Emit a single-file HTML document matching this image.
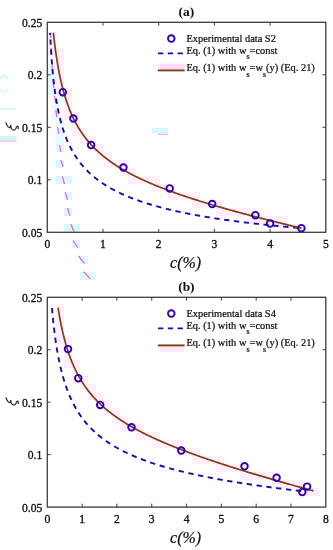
<!DOCTYPE html>
<html><head><meta charset="utf-8"><style>
html,body{margin:0;padding:0;background:#fff;width:333px;height:550px;overflow:hidden}
svg{display:block;will-change:transform;filter:blur(0.3px)}
</style></head><body>
<svg width="333" height="550" viewBox="0 0 333 550">
<style>
.tk{font-family:"Liberation Serif",serif;font-size:11.6px;fill:#0d0d0d;stroke:#0d0d0d;stroke-width:0.3px}
.ti{font-family:"Liberation Serif",serif;font-size:13.4px;font-weight:bold;fill:#0d0d0d}
.xl{font-family:"Liberation Serif",serif;font-size:16px;font-style:italic;fill:#0d0d0d;stroke:#0d0d0d;stroke-width:0.2px}
.yl{font-family:"Liberation Serif",serif;font-size:16px;fill:#0d0d0d}
.lg{font-family:"Liberation Serif",serif;font-size:10.4px;fill:#0d0d0d;stroke:#0d0d0d;stroke-width:0.22px}
.sb{font-size:8px}
</style>
<rect width="333" height="550" fill="#fff"/>
<rect x="48" y="32" width="8" height="8" fill="#fce4f7" opacity="0.6"/>
<rect x="48" y="40" width="8" height="8" fill="#fce4f7" opacity="0.6"/>
<rect x="48" y="48" width="8" height="8" fill="#fce4f7" opacity="0.6"/>
<rect x="56" y="48" width="8" height="8" fill="#fce4f7" opacity="0.6"/>
<rect x="56" y="56" width="8" height="8" fill="#fce4f7" opacity="0.6"/>
<rect x="56" y="64" width="8" height="8" fill="#fce4f7" opacity="0.6"/>
<rect x="56" y="72" width="8" height="8" fill="#fce4f7" opacity="0.6"/>
<rect x="56" y="80" width="8" height="8" fill="#fce4f7" opacity="0.6"/>
<rect x="56" y="88" width="8" height="8" fill="#fce4f7" opacity="0.6"/>
<rect x="56" y="304" width="8" height="8" fill="#fce4f7" opacity="0.6"/>
<rect x="56" y="312" width="8" height="8" fill="#fce4f7" opacity="0.6"/>
<rect x="56" y="320" width="8" height="8" fill="#fce4f7" opacity="0.6"/>
<rect x="56" y="328" width="8" height="8" fill="#fce4f7" opacity="0.6"/>
<rect x="56" y="336" width="8" height="8" fill="#fce4f7" opacity="0.6"/>
<rect x="64" y="88" width="8" height="8" fill="#fce4f7" opacity="0.6"/>
<rect x="64" y="96" width="8" height="8" fill="#fce4f7" opacity="0.6"/>
<rect x="64" y="104" width="8" height="8" fill="#fce4f7" opacity="0.6"/>
<rect x="64" y="112" width="8" height="8" fill="#fce4f7" opacity="0.6"/>
<rect x="64" y="336" width="8" height="8" fill="#fce4f7" opacity="0.6"/>
<rect x="64" y="344" width="8" height="8" fill="#fce4f7" opacity="0.6"/>
<rect x="64" y="352" width="8" height="8" fill="#fce4f7" opacity="0.6"/>
<rect x="64" y="360" width="8" height="8" fill="#fce4f7" opacity="0.6"/>
<rect x="72" y="112" width="8" height="8" fill="#fce4f7" opacity="0.6"/>
<rect x="72" y="120" width="8" height="8" fill="#fce4f7" opacity="0.6"/>
<rect x="72" y="128" width="8" height="8" fill="#fce4f7" opacity="0.6"/>
<rect x="72" y="360" width="8" height="8" fill="#fce4f7" opacity="0.6"/>
<rect x="72" y="368" width="8" height="8" fill="#fce4f7" opacity="0.6"/>
<rect x="72" y="376" width="8" height="8" fill="#fce4f7" opacity="0.6"/>
<rect x="80" y="128" width="8" height="8" fill="#fce4f7" opacity="0.6"/>
<rect x="80" y="136" width="8" height="8" fill="#fce4f7" opacity="0.6"/>
<rect x="80" y="376" width="8" height="8" fill="#fce4f7" opacity="0.6"/>
<rect x="80" y="384" width="8" height="8" fill="#fce4f7" opacity="0.6"/>
<rect x="88" y="136" width="8" height="8" fill="#fce4f7" opacity="0.6"/>
<rect x="88" y="144" width="8" height="8" fill="#fce4f7" opacity="0.6"/>
<rect x="88" y="384" width="8" height="8" fill="#fce4f7" opacity="0.6"/>
<rect x="88" y="392" width="8" height="8" fill="#fce4f7" opacity="0.6"/>
<rect x="96" y="144" width="8" height="8" fill="#fce4f7" opacity="0.6"/>
<rect x="96" y="152" width="8" height="8" fill="#fce4f7" opacity="0.6"/>
<rect x="96" y="392" width="8" height="8" fill="#fce4f7" opacity="0.6"/>
<rect x="96" y="400" width="8" height="8" fill="#fce4f7" opacity="0.6"/>
<rect x="104" y="152" width="8" height="8" fill="#fce4f7" opacity="0.6"/>
<rect x="104" y="160" width="8" height="8" fill="#fce4f7" opacity="0.6"/>
<rect x="104" y="400" width="8" height="8" fill="#fce4f7" opacity="0.6"/>
<rect x="104" y="408" width="8" height="8" fill="#fce4f7" opacity="0.6"/>
<rect x="112" y="160" width="8" height="8" fill="#fce4f7" opacity="0.6"/>
<rect x="112" y="408" width="8" height="8" fill="#fce4f7" opacity="0.6"/>
<rect x="112" y="416" width="8" height="8" fill="#fce4f7" opacity="0.6"/>
<rect x="120" y="160" width="8" height="8" fill="#fce4f7" opacity="0.6"/>
<rect x="120" y="168" width="8" height="8" fill="#fce4f7" opacity="0.6"/>
<rect x="120" y="416" width="8" height="8" fill="#fce4f7" opacity="0.6"/>
<rect x="120" y="424" width="8" height="8" fill="#fce4f7" opacity="0.6"/>
<rect x="128" y="168" width="8" height="8" fill="#fce4f7" opacity="0.6"/>
<rect x="128" y="176" width="8" height="8" fill="#fce4f7" opacity="0.6"/>
<rect x="128" y="424" width="8" height="8" fill="#fce4f7" opacity="0.6"/>
<rect x="136" y="176" width="8" height="8" fill="#fce4f7" opacity="0.6"/>
<rect x="136" y="424" width="8" height="8" fill="#fce4f7" opacity="0.6"/>
<rect x="136" y="432" width="8" height="8" fill="#fce4f7" opacity="0.6"/>
<rect x="144" y="176" width="8" height="8" fill="#fce4f7" opacity="0.6"/>
<rect x="144" y="432" width="8" height="8" fill="#fce4f7" opacity="0.6"/>
<rect x="152" y="176" width="8" height="8" fill="#fce4f7" opacity="0.6"/>
<rect x="152" y="184" width="8" height="8" fill="#fce4f7" opacity="0.6"/>
<rect x="152" y="432" width="8" height="8" fill="#fce4f7" opacity="0.6"/>
<rect x="152" y="440" width="8" height="8" fill="#fce4f7" opacity="0.6"/>
<rect x="160" y="184" width="8" height="8" fill="#fce4f7" opacity="0.6"/>
<rect x="160" y="440" width="8" height="8" fill="#fce4f7" opacity="0.6"/>
<rect x="168" y="184" width="8" height="8" fill="#fce4f7" opacity="0.6"/>
<rect x="168" y="192" width="8" height="8" fill="#fce4f7" opacity="0.6"/>
<rect x="168" y="440" width="8" height="8" fill="#fce4f7" opacity="0.6"/>
<rect x="176" y="192" width="8" height="8" fill="#fce4f7" opacity="0.6"/>
<rect x="176" y="440" width="8" height="8" fill="#fce4f7" opacity="0.6"/>
<rect x="176" y="448" width="8" height="8" fill="#fce4f7" opacity="0.6"/>
<rect x="184" y="192" width="8" height="8" fill="#fce4f7" opacity="0.6"/>
<rect x="184" y="448" width="8" height="8" fill="#fce4f7" opacity="0.6"/>
<rect x="192" y="192" width="8" height="8" fill="#fce4f7" opacity="0.6"/>
<rect x="192" y="200" width="8" height="8" fill="#fce4f7" opacity="0.6"/>
<rect x="192" y="448" width="8" height="8" fill="#fce4f7" opacity="0.6"/>
<rect x="192" y="456" width="8" height="8" fill="#fce4f7" opacity="0.6"/>
<rect x="200" y="200" width="8" height="8" fill="#fce4f7" opacity="0.6"/>
<rect x="200" y="456" width="8" height="8" fill="#fce4f7" opacity="0.6"/>
<rect x="208" y="200" width="8" height="8" fill="#fce4f7" opacity="0.6"/>
<rect x="208" y="456" width="8" height="8" fill="#fce4f7" opacity="0.6"/>
<rect x="216" y="200" width="8" height="8" fill="#fce4f7" opacity="0.6"/>
<rect x="216" y="208" width="8" height="8" fill="#fce4f7" opacity="0.6"/>
<rect x="216" y="456" width="8" height="8" fill="#fce4f7" opacity="0.6"/>
<rect x="216" y="464" width="8" height="8" fill="#fce4f7" opacity="0.6"/>
<rect x="224" y="208" width="8" height="8" fill="#fce4f7" opacity="0.6"/>
<rect x="224" y="464" width="8" height="8" fill="#fce4f7" opacity="0.6"/>
<rect x="232" y="208" width="8" height="8" fill="#fce4f7" opacity="0.6"/>
<rect x="232" y="464" width="8" height="8" fill="#fce4f7" opacity="0.6"/>
<rect x="240" y="208" width="8" height="8" fill="#fce4f7" opacity="0.6"/>
<rect x="240" y="464" width="8" height="8" fill="#fce4f7" opacity="0.6"/>
<rect x="240" y="472" width="8" height="8" fill="#fce4f7" opacity="0.6"/>
<rect x="248" y="208" width="8" height="8" fill="#fce4f7" opacity="0.6"/>
<rect x="248" y="216" width="8" height="8" fill="#fce4f7" opacity="0.6"/>
<rect x="248" y="472" width="8" height="8" fill="#fce4f7" opacity="0.6"/>
<rect x="256" y="216" width="8" height="8" fill="#fce4f7" opacity="0.6"/>
<rect x="256" y="472" width="8" height="8" fill="#fce4f7" opacity="0.6"/>
<rect x="264" y="216" width="8" height="8" fill="#fce4f7" opacity="0.6"/>
<rect x="264" y="472" width="8" height="8" fill="#fce4f7" opacity="0.6"/>
<rect x="272" y="216" width="8" height="8" fill="#fce4f7" opacity="0.6"/>
<rect x="272" y="472" width="8" height="8" fill="#fce4f7" opacity="0.6"/>
<rect x="272" y="480" width="8" height="8" fill="#fce4f7" opacity="0.6"/>
<rect x="280" y="216" width="8" height="8" fill="#fce4f7" opacity="0.6"/>
<rect x="280" y="224" width="8" height="8" fill="#fce4f7" opacity="0.6"/>
<rect x="280" y="480" width="8" height="8" fill="#fce4f7" opacity="0.6"/>
<rect x="288" y="224" width="8" height="8" fill="#fce4f7" opacity="0.6"/>
<rect x="288" y="480" width="8" height="8" fill="#fce4f7" opacity="0.6"/>
<rect x="296" y="224" width="8" height="8" fill="#fce4f7" opacity="0.6"/>
<rect x="296" y="480" width="8" height="8" fill="#fce4f7" opacity="0.6"/>
<rect x="296" y="488" width="8" height="8" fill="#fce4f7" opacity="0.6"/>
<rect x="304" y="488" width="8" height="8" fill="#fce4f7" opacity="0.6"/>
<rect x="312" y="488" width="8" height="8" fill="#fce4f7" opacity="0.6"/>
<rect x="48" y="64" width="8" height="16" fill="#d2f6f8" opacity="0.6"/>
<rect x="48" y="80" width="8" height="16" fill="#d2f6f8" opacity="0.6"/>
<rect x="56" y="96" width="8" height="8" fill="#d2f6f8" opacity="0.5"/>
<rect x="52" y="104" width="8" height="16" fill="#d2f6f8" opacity="0.5"/>
<rect x="56" y="120" width="8" height="16" fill="#d2f6f8" opacity="0.6"/>
<rect x="56" y="136" width="8" height="8" fill="#d2f6f8" opacity="0.5"/>
<rect x="56" y="144" width="8" height="8" fill="#d2f6f8" opacity="0.7"/>
<rect x="56" y="160" width="8" height="8" fill="#d2f6f8" opacity="0.8"/>
<rect x="56" y="176" width="16" height="8" fill="#d2f6f8" opacity="0.8"/>
<rect x="64" y="192" width="8" height="8" fill="#d2f6f8" opacity="0.8"/>
<rect x="64" y="208" width="8" height="8" fill="#d2f6f8" opacity="0.8"/>
<rect x="64" y="224" width="16" height="8" fill="#d2f6f8" opacity="0.8"/>
<rect x="72" y="240" width="8" height="8" fill="#d2f6f8" opacity="0.8"/>
<rect x="80" y="256" width="8" height="8" fill="#d2f6f8" opacity="0.8"/>
<rect x="80" y="272" width="16" height="8" fill="#d2f6f8" opacity="0.8"/>
<line x1="50.3" y1="33" x2="50.8" y2="38" stroke="#ec62cc" stroke-width="1.3" opacity="0.95"/>
<line x1="51" y1="48" x2="51.6" y2="55" stroke="#ec62cc" stroke-width="1.3" opacity="0.95"/>
<line x1="52" y1="65" x2="52.6" y2="72" stroke="#ec62cc" stroke-width="1.3" opacity="0.95"/>
<line x1="53" y1="81" x2="53.8" y2="88" stroke="#ec62cc" stroke-width="1.3" opacity="0.95"/>
<line x1="54.6" y1="96" x2="55.6" y2="103" stroke="#ec62cc" stroke-width="1.3" opacity="0.95"/>
<line x1="55.8" y1="110" x2="56.8" y2="117" stroke="#ec62cc" stroke-width="1.3" opacity="0.95"/>
<line x1="57.6" y1="127" x2="58.8" y2="134" stroke="#ec62cc" stroke-width="1.3" opacity="0.95"/>
<line x1="59.5" y1="145" x2="60.7" y2="152" stroke="#ec62cc" stroke-width="1.3" opacity="0.95"/>
<line x1="60.8" y1="160" x2="63" y2="166.8" stroke="#ec62cc" stroke-width="1.3" opacity="0.95"/>
<line x1="62.3" y1="176.5" x2="64.5" y2="184" stroke="#ec62cc" stroke-width="1.3" opacity="0.95"/>
<line x1="65.3" y1="192.3" x2="67.5" y2="199.8" stroke="#ec62cc" stroke-width="1.3" opacity="0.95"/>
<line x1="67.5" y1="208" x2="69.8" y2="215.6" stroke="#ec62cc" stroke-width="1.3" opacity="0.95"/>
<line x1="70.8" y1="224" x2="74" y2="231.5" stroke="#ec62cc" stroke-width="1.3" opacity="0.95"/>
<line x1="73" y1="240.5" x2="78" y2="248" stroke="#ec62cc" stroke-width="1.3" opacity="0.95"/>
<line x1="78.5" y1="256" x2="84.5" y2="263.3" stroke="#ec62cc" stroke-width="1.3" opacity="0.95"/>
<line x1="83.5" y1="271.6" x2="90.4" y2="278.9" stroke="#ec62cc" stroke-width="1.3" opacity="0.95"/>
<rect x="0" y="136" width="16.5" height="4.5" fill="#cdf6f8"/>
<rect x="0" y="140.5" width="16.5" height="1" fill="#f7a6e4"/>
<line x1="0" y1="108.9" x2="16" y2="108.9" stroke="#d4f6f8" stroke-width="1.6"/>
<path d="M0,79.5 A3.8,3.8 0 0 1 7.6,79.5" fill="none" stroke="#cff5f8" stroke-width="1.8"/>
<path d="M0,88.5 A3.8,3.8 0 0 0 7.6,88.5" fill="none" stroke="#d8f6f8" stroke-width="1.6"/>
<rect x="151.7" y="128" width="16.3" height="5.4" fill="#d4f8fa"/>
<rect x="158" y="133.8" width="10" height="1" fill="#f59be2"/>
<rect x="152.4" y="63.8" width="7.6" height="5.4" fill="#fdf0fa"/>
<rect x="160" y="63.8" width="24.2" height="5.4" fill="#fcdaf5"/>
<rect x="159.6" y="346.2" width="24.8" height="5.6" fill="#fde6f8"/>
<rect x="47.3" y="22.3" width="278.50" height="210.00" fill="none" stroke="#3d3d3d" stroke-width="1.3"/>
<text x="47.30" y="247.90" text-anchor="middle" class="tk">0</text>
<line x1="103.00" y1="232.3" x2="103.00" y2="228.9" stroke="#3d3d3d" stroke-width="1"/>
<line x1="103.00" y1="22.3" x2="103.00" y2="25.7" stroke="#3d3d3d" stroke-width="1"/>
<text x="103.00" y="247.90" text-anchor="middle" class="tk">1</text>
<line x1="158.70" y1="232.3" x2="158.70" y2="228.9" stroke="#3d3d3d" stroke-width="1"/>
<line x1="158.70" y1="22.3" x2="158.70" y2="25.7" stroke="#3d3d3d" stroke-width="1"/>
<text x="158.70" y="247.90" text-anchor="middle" class="tk">2</text>
<line x1="214.40" y1="232.3" x2="214.40" y2="228.9" stroke="#3d3d3d" stroke-width="1"/>
<line x1="214.40" y1="22.3" x2="214.40" y2="25.7" stroke="#3d3d3d" stroke-width="1"/>
<text x="214.40" y="247.90" text-anchor="middle" class="tk">3</text>
<line x1="270.10" y1="232.3" x2="270.10" y2="228.9" stroke="#3d3d3d" stroke-width="1"/>
<line x1="270.10" y1="22.3" x2="270.10" y2="25.7" stroke="#3d3d3d" stroke-width="1"/>
<text x="270.10" y="247.90" text-anchor="middle" class="tk">4</text>
<text x="325.80" y="247.90" text-anchor="middle" class="tk">5</text>
<text x="42.3" y="236.70" text-anchor="end" class="tk">0.05</text>
<line x1="47.3" y1="179.80" x2="50.699999999999996" y2="179.80" stroke="#3d3d3d" stroke-width="1"/>
<line x1="325.8" y1="179.80" x2="322.40000000000003" y2="179.80" stroke="#3d3d3d" stroke-width="1"/>
<text x="42.3" y="184.20" text-anchor="end" class="tk">0.1</text>
<line x1="47.3" y1="127.30" x2="50.699999999999996" y2="127.30" stroke="#3d3d3d" stroke-width="1"/>
<line x1="325.8" y1="127.30" x2="322.40000000000003" y2="127.30" stroke="#3d3d3d" stroke-width="1"/>
<text x="42.3" y="131.70" text-anchor="end" class="tk">0.15</text>
<line x1="47.3" y1="74.80" x2="50.699999999999996" y2="74.80" stroke="#3d3d3d" stroke-width="1"/>
<line x1="325.8" y1="74.80" x2="322.40000000000003" y2="74.80" stroke="#3d3d3d" stroke-width="1"/>
<text x="42.3" y="79.20" text-anchor="end" class="tk">0.2</text>
<text x="42.3" y="26.70" text-anchor="end" class="tk">0.25</text>
<text x="186.4" y="15.90" text-anchor="middle" class="ti">(a)</text>
<text x="185.6" y="268.10" text-anchor="middle" class="xl">c(%)</text>
<path transform="translate(0,0.00)" d="M6.0,122.9 C6.8,125.5 8.2,127.6 9.8,127.6 C11.0,127.6 11.4,125.8 10.6,125.6 C10.0,125.6 10.8,127.5 11.8,129.0 C12.8,130.4 14.6,130.6 15.6,129.0 C16.3,127.8 16.6,126.2 17.4,126.2 C18.2,126.2 18.5,127.8 18.2,128.8" fill="none" stroke="#262626" stroke-width="1.2" stroke-linecap="round"/>
<rect x="47.3" y="297.3" width="278.50" height="209.80" fill="none" stroke="#3d3d3d" stroke-width="1.3"/>
<text x="47.30" y="522.70" text-anchor="middle" class="tk">0</text>
<line x1="82.11" y1="507.1" x2="82.11" y2="503.70000000000005" stroke="#3d3d3d" stroke-width="1"/>
<line x1="82.11" y1="297.3" x2="82.11" y2="300.7" stroke="#3d3d3d" stroke-width="1"/>
<text x="82.11" y="522.70" text-anchor="middle" class="tk">1</text>
<line x1="116.92" y1="507.1" x2="116.92" y2="503.70000000000005" stroke="#3d3d3d" stroke-width="1"/>
<line x1="116.92" y1="297.3" x2="116.92" y2="300.7" stroke="#3d3d3d" stroke-width="1"/>
<text x="116.92" y="522.70" text-anchor="middle" class="tk">2</text>
<line x1="151.74" y1="507.1" x2="151.74" y2="503.70000000000005" stroke="#3d3d3d" stroke-width="1"/>
<line x1="151.74" y1="297.3" x2="151.74" y2="300.7" stroke="#3d3d3d" stroke-width="1"/>
<text x="151.74" y="522.70" text-anchor="middle" class="tk">3</text>
<line x1="186.55" y1="507.1" x2="186.55" y2="503.70000000000005" stroke="#3d3d3d" stroke-width="1"/>
<line x1="186.55" y1="297.3" x2="186.55" y2="300.7" stroke="#3d3d3d" stroke-width="1"/>
<text x="186.55" y="522.70" text-anchor="middle" class="tk">4</text>
<line x1="221.36" y1="507.1" x2="221.36" y2="503.70000000000005" stroke="#3d3d3d" stroke-width="1"/>
<line x1="221.36" y1="297.3" x2="221.36" y2="300.7" stroke="#3d3d3d" stroke-width="1"/>
<text x="221.36" y="522.70" text-anchor="middle" class="tk">5</text>
<line x1="256.18" y1="507.1" x2="256.18" y2="503.70000000000005" stroke="#3d3d3d" stroke-width="1"/>
<line x1="256.18" y1="297.3" x2="256.18" y2="300.7" stroke="#3d3d3d" stroke-width="1"/>
<text x="256.18" y="522.70" text-anchor="middle" class="tk">6</text>
<line x1="290.99" y1="507.1" x2="290.99" y2="503.70000000000005" stroke="#3d3d3d" stroke-width="1"/>
<line x1="290.99" y1="297.3" x2="290.99" y2="300.7" stroke="#3d3d3d" stroke-width="1"/>
<text x="290.99" y="522.70" text-anchor="middle" class="tk">7</text>
<text x="325.80" y="522.70" text-anchor="middle" class="tk">8</text>
<text x="42.3" y="511.50" text-anchor="end" class="tk">0.05</text>
<line x1="47.3" y1="454.65" x2="50.699999999999996" y2="454.65" stroke="#3d3d3d" stroke-width="1"/>
<line x1="325.8" y1="454.65" x2="322.40000000000003" y2="454.65" stroke="#3d3d3d" stroke-width="1"/>
<text x="42.3" y="459.05" text-anchor="end" class="tk">0.1</text>
<line x1="47.3" y1="402.20" x2="50.699999999999996" y2="402.20" stroke="#3d3d3d" stroke-width="1"/>
<line x1="325.8" y1="402.20" x2="322.40000000000003" y2="402.20" stroke="#3d3d3d" stroke-width="1"/>
<text x="42.3" y="406.60" text-anchor="end" class="tk">0.15</text>
<line x1="47.3" y1="349.75" x2="50.699999999999996" y2="349.75" stroke="#3d3d3d" stroke-width="1"/>
<line x1="325.8" y1="349.75" x2="322.40000000000003" y2="349.75" stroke="#3d3d3d" stroke-width="1"/>
<text x="42.3" y="354.15" text-anchor="end" class="tk">0.2</text>
<text x="42.3" y="301.70" text-anchor="end" class="tk">0.25</text>
<text x="186.4" y="290.90" text-anchor="middle" class="ti">(b)</text>
<text x="185.6" y="542.90" text-anchor="middle" class="xl">c(%)</text>
<path transform="translate(0,274.90)" d="M6.0,122.9 C6.8,125.5 8.2,127.6 9.8,127.6 C11.0,127.6 11.4,125.8 10.6,125.6 C10.0,125.6 10.8,127.5 11.8,129.0 C12.8,130.4 14.6,130.6 15.6,129.0 C16.3,127.8 16.6,126.2 17.4,126.2 C18.2,126.2 18.5,127.8 18.2,128.8" fill="none" stroke="#262626" stroke-width="1.2" stroke-linecap="round"/>
<path d="M50.07,32.90 L50.91,48.47 L51.74,60.69 L52.58,70.68 L53.42,79.07 L54.26,86.29 L55.09,92.58 L55.93,98.16 L56.77,103.14 L57.61,107.65 L58.45,111.75 L59.28,115.50 L60.12,118.96 L60.96,122.16 L61.80,125.14 L62.63,127.93 L63.47,130.53 L64.31,132.98 L65.15,135.30 L65.98,137.48 L66.82,139.55 L67.66,141.52 L68.50,143.39 L69.33,145.17 L70.17,146.88 L71.01,148.51 L71.85,150.07 L72.68,151.57 L73.52,153.01 L74.36,154.39 L75.20,155.73 L76.03,157.01 L76.87,158.25 L77.71,159.45 L78.55,160.61 L79.38,161.73 L80.22,162.82 L81.06,163.87 L81.90,164.89 L82.73,165.88 L83.57,166.84 L84.41,167.78 L85.25,168.68 L86.08,169.57 L86.92,170.43 L87.76,171.27 L88.60,172.09 L89.43,172.88 L90.27,173.66 L91.11,174.42 L91.95,175.16 L92.79,175.89 L93.62,176.59 L94.46,177.29 L95.30,177.96 L96.14,178.63 L96.97,179.27 L97.81,179.91 L98.65,180.53 L99.49,181.14 L100.32,181.74 L101.16,182.32 L102.00,182.89 L102.84,183.46 L103.67,184.01 L104.51,184.55 L105.35,185.08 L106.19,185.61 L107.02,186.12 L107.86,186.62 L108.70,187.12 L109.54,187.60 L110.37,188.08 L111.21,188.55 L112.05,189.02 L112.89,189.47 L113.72,189.92 L114.56,190.36 L115.40,190.79 L116.24,191.22 L117.07,191.64 L117.91,192.05 L118.75,192.46 L119.59,192.86 L120.42,193.26 L121.26,193.65 L122.10,194.03 L122.94,194.41 L123.77,194.79 L124.61,195.15 L125.45,195.52 L126.29,195.88 L127.12,196.23 L127.96,196.58 L128.80,196.92 L129.64,197.26 L130.48,197.60 L131.31,197.93 L132.15,198.25 L132.99,198.58 L133.83,198.89 L134.66,199.21 L135.50,199.52 L136.34,199.82 L137.18,200.13 L138.01,200.43 L138.85,200.72 L139.69,201.01 L140.53,201.30 L141.36,201.59 L142.20,201.87 L143.04,202.15 L143.88,202.42 L144.71,202.70 L145.55,202.97 L146.39,203.23 L147.23,203.49 L148.06,203.76 L148.90,204.01 L149.74,204.27 L150.58,204.52 L151.41,204.77 L152.25,205.02 L153.09,205.26 L153.93,205.50 L154.76,205.74 L155.60,205.98 L156.44,206.21 L157.28,206.44 L158.11,206.67 L158.95,206.90 L159.79,207.13 L160.63,207.35 L161.46,207.57 L162.30,207.79 L163.14,208.00 L163.98,208.22 L164.82,208.43 L165.65,208.64 L166.49,208.85 L167.33,209.05 L168.17,209.26 L169.00,209.46 L169.84,209.66 L170.68,209.86 L171.52,210.06 L172.35,210.25 L173.19,210.45 L174.03,210.64 L174.87,210.83 L175.70,211.02 L176.54,211.20 L177.38,211.39 L178.22,211.57 L179.05,211.75 L179.89,211.93 L180.73,212.11 L181.57,212.29 L182.40,212.46 L183.24,212.64 L184.08,212.81 L184.92,212.98 L185.75,213.15 L186.59,213.32 L187.43,213.49 L188.27,213.65 L189.10,213.82 L189.94,213.98 L190.78,214.14 L191.62,214.30 L192.45,214.46 L193.29,214.62 L194.13,214.78 L194.97,214.93 L195.80,215.09 L196.64,215.24 L197.48,215.39 L198.32,215.54 L199.16,215.69 L199.99,215.84 L200.83,215.99 L201.67,216.13 L202.51,216.28 L203.34,216.42 L204.18,216.56 L205.02,216.71 L205.86,216.85 L206.69,216.99 L207.53,217.13 L208.37,217.26 L209.21,217.40 L210.04,217.54 L210.88,217.67 L211.72,217.80 L212.56,217.94 L213.39,218.07 L214.23,218.20 L215.07,218.33 L215.91,218.46 L216.74,218.59 L217.58,218.71 L218.42,218.84 L219.26,218.97 L220.09,219.09 L220.93,219.21 L221.77,219.34 L222.61,219.46 L223.44,219.58 L224.28,219.70 L225.12,219.82 L225.96,219.94 L226.79,220.06 L227.63,220.17 L228.47,220.29 L229.31,220.41 L230.14,220.52 L230.98,220.64 L231.82,220.75 L232.66,220.86 L233.50,220.97 L234.33,221.08 L235.17,221.20 L236.01,221.31 L236.85,221.41 L237.68,221.52 L238.52,221.63 L239.36,221.74 L240.20,221.84 L241.03,221.95 L241.87,222.05 L242.71,222.16 L243.55,222.26 L244.38,222.37 L245.22,222.47 L246.06,222.57 L246.90,222.67 L247.73,222.77 L248.57,222.87 L249.41,222.97 L250.25,223.07 L251.08,223.17 L251.92,223.27 L252.76,223.36 L253.60,223.46 L254.43,223.55 L255.27,223.65 L256.11,223.74 L256.95,223.84 L257.78,223.93 L258.62,224.02 L259.46,224.12 L260.30,224.21 L261.13,224.30 L261.97,224.39 L262.81,224.48 L263.65,224.57 L264.48,224.66 L265.32,224.75 L266.16,224.84 L267.00,224.93 L267.84,225.01 L268.67,225.10 L269.51,225.19 L270.35,225.27 L271.19,225.36 L272.02,225.44 L272.86,225.53 L273.70,225.61 L274.54,225.69 L275.37,225.78 L276.21,225.86 L277.05,225.94 L277.89,226.02 L278.72,226.10 L279.56,226.18 L280.40,226.26 L281.24,226.34 L282.07,226.42 L282.91,226.50 L283.75,226.58 L284.59,226.66 L285.42,226.74 L286.26,226.81 L287.10,226.89 L287.94,226.97 L288.77,227.04 L289.61,227.12 L290.45,227.19 L291.29,227.27 L292.12,227.34 L292.96,227.42 L293.80,227.49 L294.64,227.56 L295.47,227.63 L296.31,227.71 L297.15,227.78 L297.99,227.85 L298.82,227.92 L299.66,227.99 L300.50,228.06" fill="none" stroke="#1c0cb0" stroke-width="1.9" stroke-dasharray="5.3 4.6" stroke-dashoffset="3.3"/>
<path d="M53.37,32.60 L54.20,40.05 L55.03,46.78 L55.86,52.90 L56.69,58.49 L57.52,63.63 L58.35,68.36 L59.18,72.75 L60.01,76.84 L60.84,80.64 L61.67,84.21 L62.50,87.55 L63.33,90.70 L64.16,93.66 L64.99,96.47 L65.82,99.12 L66.65,101.64 L67.48,104.04 L68.31,106.32 L69.14,108.50 L69.97,110.58 L70.80,112.58 L71.63,114.49 L72.46,116.32 L73.29,118.08 L74.12,119.77 L74.95,121.40 L75.78,122.97 L76.61,124.48 L77.44,125.95 L78.27,127.36 L79.10,128.73 L79.94,130.06 L80.77,131.34 L81.60,132.59 L82.43,133.80 L83.26,134.97 L84.09,136.11 L84.92,137.22 L85.75,138.30 L86.58,139.35 L87.41,140.38 L88.24,141.38 L89.07,142.35 L89.90,143.31 L90.73,144.24 L91.56,145.14 L92.39,146.03 L93.22,146.90 L94.05,147.75 L94.88,148.58 L95.71,149.39 L96.54,150.19 L97.37,150.97 L98.20,151.74 L99.03,152.49 L99.86,153.23 L100.69,153.95 L101.52,154.66 L102.35,155.36 L103.18,156.04 L104.01,156.72 L104.84,157.38 L105.67,158.03 L106.50,158.67 L107.33,159.30 L108.16,159.92 L108.99,160.53 L109.82,161.13 L110.65,161.73 L111.48,162.31 L112.31,162.89 L113.14,163.45 L113.97,164.01 L114.80,164.56 L115.63,165.11 L116.46,165.65 L117.29,166.18 L118.12,166.70 L118.95,167.21 L119.78,167.72 L120.62,168.23 L121.45,168.73 L122.28,169.22 L123.11,169.70 L123.94,170.18 L124.77,170.66 L125.60,171.13 L126.43,171.59 L127.26,172.05 L128.09,172.50 L128.92,172.95 L129.75,173.40 L130.58,173.84 L131.41,174.27 L132.24,174.70 L133.07,175.13 L133.90,175.55 L134.73,175.97 L135.56,176.39 L136.39,176.80 L137.22,177.20 L138.05,177.61 L138.88,178.01 L139.71,178.40 L140.54,178.80 L141.37,179.18 L142.20,179.57 L143.03,179.95 L143.86,180.33 L144.69,180.71 L145.52,181.08 L146.35,181.45 L147.18,181.82 L148.01,182.19 L148.84,182.55 L149.67,182.91 L150.50,183.26 L151.33,183.62 L152.16,183.97 L152.99,184.32 L153.82,184.67 L154.65,185.01 L155.48,185.35 L156.31,185.69 L157.14,186.03 L157.97,186.36 L158.80,186.69 L159.63,187.03 L160.47,187.35 L161.30,187.68 L162.13,188.00 L162.96,188.33 L163.79,188.65 L164.62,188.97 L165.45,189.28 L166.28,189.60 L167.11,189.91 L167.94,190.22 L168.77,190.53 L169.60,190.84 L170.43,191.14 L171.26,191.45 L172.09,191.75 L172.92,192.05 L173.75,192.35 L174.58,192.65 L175.41,192.94 L176.24,193.24 L177.07,193.53 L177.90,193.82 L178.73,194.11 L179.56,194.40 L180.39,194.69 L181.22,194.97 L182.05,195.26 L182.88,195.54 L183.71,195.82 L184.54,196.10 L185.37,196.38 L186.20,196.66 L187.03,196.94 L187.86,197.21 L188.69,197.49 L189.52,197.76 L190.35,198.03 L191.18,198.31 L192.01,198.58 L192.84,198.84 L193.67,199.11 L194.50,199.38 L195.33,199.64 L196.16,199.91 L196.99,200.17 L197.82,200.43 L198.65,200.70 L199.48,200.96 L200.31,201.22 L201.15,201.47 L201.98,201.73 L202.81,201.99 L203.64,202.24 L204.47,202.50 L205.30,202.75 L206.13,203.01 L206.96,203.26 L207.79,203.51 L208.62,203.76 L209.45,204.01 L210.28,204.26 L211.11,204.51 L211.94,204.75 L212.77,205.00 L213.60,205.24 L214.43,205.49 L215.26,205.73 L216.09,205.98 L216.92,206.22 L217.75,206.46 L218.58,206.70 L219.41,206.94 L220.24,207.18 L221.07,207.42 L221.90,207.66 L222.73,207.89 L223.56,208.13 L224.39,208.37 L225.22,208.60 L226.05,208.84 L226.88,209.07 L227.71,209.31 L228.54,209.54 L229.37,209.77 L230.20,210.00 L231.03,210.23 L231.86,210.46 L232.69,210.69 L233.52,210.92 L234.35,211.15 L235.18,211.38 L236.01,211.61 L236.84,211.83 L237.67,212.06 L238.50,212.28 L239.33,212.51 L240.16,212.73 L240.99,212.96 L241.83,213.18 L242.66,213.41 L243.49,213.63 L244.32,213.85 L245.15,214.07 L245.98,214.29 L246.81,214.51 L247.64,214.73 L248.47,214.95 L249.30,215.17 L250.13,215.39 L250.96,215.61 L251.79,215.83 L252.62,216.04 L253.45,216.26 L254.28,216.48 L255.11,216.69 L255.94,216.91 L256.77,217.12 L257.60,217.34 L258.43,217.55 L259.26,217.77 L260.09,217.98 L260.92,218.19 L261.75,218.40 L262.58,218.62 L263.41,218.83 L264.24,219.04 L265.07,219.25 L265.90,219.46 L266.73,219.67 L267.56,219.88 L268.39,220.09 L269.22,220.30 L270.05,220.51 L270.88,220.72 L271.71,220.92 L272.54,221.13 L273.37,221.34 L274.20,221.55 L275.03,221.75 L275.86,221.96 L276.69,222.16 L277.52,222.37 L278.35,222.58 L279.18,222.78 L280.01,222.98 L280.84,223.19 L281.68,223.39 L282.51,223.60 L283.34,223.80 L284.17,224.00 L285.00,224.20 L285.83,224.41 L286.66,224.61 L287.49,224.81 L288.32,225.01 L289.15,225.21 L289.98,225.41 L290.81,225.61 L291.64,225.81 L292.47,226.01 L293.30,226.21 L294.13,226.41 L294.96,226.61 L295.79,226.81 L296.62,227.01 L297.45,227.21 L298.28,227.41 L299.11,227.60 L299.94,227.80 L300.77,228.00 L301.60,228.19" fill="none" stroke="#7f3f1a" stroke-width="1.7"/>
<path d="M51.97,308.00 L52.80,317.11 L53.64,325.10 L54.48,332.18 L55.31,338.53 L56.15,344.26 L56.99,349.47 L57.82,354.23 L58.66,358.62 L59.49,362.67 L60.33,366.43 L61.17,369.94 L62.00,373.22 L62.84,376.29 L63.68,379.19 L64.51,381.92 L65.35,384.50 L66.18,386.94 L67.02,389.26 L67.86,391.47 L68.69,393.57 L69.53,395.58 L70.36,397.50 L71.20,399.34 L72.04,401.10 L72.87,402.79 L73.71,404.42 L74.55,405.98 L75.38,407.49 L76.22,408.94 L77.05,410.34 L77.89,411.70 L78.73,413.01 L79.56,414.27 L80.40,415.50 L81.24,416.69 L82.07,417.84 L82.91,418.96 L83.74,420.05 L84.58,421.10 L85.42,422.13 L86.25,423.13 L87.09,424.10 L87.93,425.05 L88.76,425.97 L89.60,426.87 L90.43,427.75 L91.27,428.60 L92.11,429.44 L92.94,430.26 L93.78,431.05 L94.62,431.83 L95.45,432.60 L96.29,433.34 L97.12,434.07 L97.96,434.79 L98.80,435.49 L99.63,436.17 L100.47,436.84 L101.31,437.50 L102.14,438.15 L102.98,438.78 L103.81,439.40 L104.65,440.01 L105.49,440.61 L106.32,441.19 L107.16,441.77 L108.00,442.34 L108.83,442.90 L109.67,443.44 L110.50,443.98 L111.34,444.51 L112.18,445.03 L113.01,445.54 L113.85,446.04 L114.68,446.54 L115.52,447.03 L116.36,447.51 L117.19,447.98 L118.03,448.45 L118.87,448.90 L119.70,449.36 L120.54,449.80 L121.37,450.24 L122.21,450.67 L123.05,451.10 L123.88,451.52 L124.72,451.93 L125.56,452.34 L126.39,452.75 L127.23,453.14 L128.06,453.54 L128.90,453.92 L129.74,454.31 L130.57,454.68 L131.41,455.06 L132.25,455.43 L133.08,455.79 L133.92,456.15 L134.75,456.50 L135.59,456.85 L136.43,457.20 L137.26,457.54 L138.10,457.88 L138.94,458.21 L139.77,458.54 L140.61,458.87 L141.44,459.19 L142.28,459.51 L143.12,459.83 L143.95,460.14 L144.79,460.45 L145.63,460.75 L146.46,461.06 L147.30,461.36 L148.13,461.65 L148.97,461.94 L149.81,462.23 L150.64,462.52 L151.48,462.80 L152.32,463.08 L153.15,463.36 L153.99,463.64 L154.82,463.91 L155.66,464.18 L156.50,464.45 L157.33,464.71 L158.17,464.98 L159.01,465.24 L159.84,465.49 L160.68,465.75 L161.51,466.00 L162.35,466.25 L163.19,466.50 L164.02,466.74 L164.86,466.99 L165.69,467.23 L166.53,467.47 L167.37,467.71 L168.20,467.94 L169.04,468.17 L169.88,468.40 L170.71,468.63 L171.55,468.86 L172.38,469.09 L173.22,469.31 L174.06,469.53 L174.89,469.75 L175.73,469.97 L176.57,470.19 L177.40,470.40 L178.24,470.61 L179.07,470.82 L179.91,471.03 L180.75,471.24 L181.58,471.45 L182.42,471.65 L183.26,471.85 L184.09,472.06 L184.93,472.26 L185.76,472.45 L186.60,472.65 L187.44,472.85 L188.27,473.04 L189.11,473.23 L189.95,473.42 L190.78,473.61 L191.62,473.80 L192.45,473.99 L193.29,474.18 L194.13,474.36 L194.96,474.54 L195.80,474.73 L196.64,474.91 L197.47,475.09 L198.31,475.26 L199.14,475.44 L199.98,475.62 L200.82,475.79 L201.65,475.96 L202.49,476.14 L203.33,476.31 L204.16,476.48 L205.00,476.65 L205.83,476.82 L206.67,476.98 L207.51,477.15 L208.34,477.31 L209.18,477.48 L210.01,477.64 L210.85,477.80 L211.69,477.96 L212.52,478.12 L213.36,478.28 L214.20,478.44 L215.03,478.59 L215.87,478.75 L216.70,478.90 L217.54,479.06 L218.38,479.21 L219.21,479.36 L220.05,479.51 L220.89,479.66 L221.72,479.81 L222.56,479.96 L223.39,480.11 L224.23,480.26 L225.07,480.40 L225.90,480.55 L226.74,480.69 L227.58,480.84 L228.41,480.98 L229.25,481.12 L230.08,481.26 L230.92,481.40 L231.76,481.54 L232.59,481.68 L233.43,481.82 L234.27,481.96 L235.10,482.09 L235.94,482.23 L236.77,482.37 L237.61,482.50 L238.45,482.63 L239.28,482.77 L240.12,482.90 L240.96,483.03 L241.79,483.16 L242.63,483.29 L243.46,483.42 L244.30,483.55 L245.14,483.68 L245.97,483.81 L246.81,483.94 L247.65,484.06 L248.48,484.19 L249.32,484.31 L250.15,484.44 L250.99,484.56 L251.83,484.69 L252.66,484.81 L253.50,484.93 L254.34,485.05 L255.17,485.17 L256.01,485.29 L256.84,485.41 L257.68,485.53 L258.52,485.65 L259.35,485.77 L260.19,485.89 L261.02,486.01 L261.86,486.12 L262.70,486.24 L263.53,486.35 L264.37,486.47 L265.21,486.58 L266.04,486.70 L266.88,486.81 L267.71,486.93 L268.55,487.04 L269.39,487.15 L270.22,487.26 L271.06,487.37 L271.90,487.48 L272.73,487.59 L273.57,487.70 L274.40,487.81 L275.24,487.92 L276.08,488.03 L276.91,488.14 L277.75,488.25 L278.59,488.35 L279.42,488.46 L280.26,488.56 L281.09,488.67 L281.93,488.78 L282.77,488.88 L283.60,488.98 L284.44,489.09 L285.28,489.19 L286.11,489.30 L286.95,489.40 L287.78,489.50 L288.62,489.60 L289.46,489.70 L290.29,489.80 L291.13,489.91 L291.97,490.01 L292.80,490.11 L293.64,490.21 L294.47,490.30 L295.31,490.40 L296.15,490.50 L296.98,490.60 L297.82,490.70 L298.66,490.79 L299.49,490.89 L300.33,490.99 L301.16,491.08 L302.00,491.18" fill="none" stroke="#1c0cb0" stroke-width="1.9" stroke-dasharray="5.3 4.6"/>
<path d="M58.05,307.60 L58.91,312.88 L59.76,317.76 L60.62,322.29 L61.47,326.50 L62.32,330.43 L63.18,334.11 L64.03,337.57 L64.89,340.82 L65.74,343.89 L66.60,346.80 L67.45,349.55 L68.31,352.16 L69.16,354.65 L70.01,357.02 L70.87,359.28 L71.72,361.45 L72.58,363.52 L73.43,365.50 L74.29,367.40 L75.14,369.24 L75.99,371.00 L76.85,372.69 L77.70,374.33 L78.56,375.91 L79.41,377.44 L80.27,378.91 L81.12,380.34 L81.97,381.73 L82.83,383.07 L83.68,384.37 L84.54,385.64 L85.39,386.87 L86.25,388.06 L87.10,389.22 L87.95,390.36 L88.81,391.46 L89.66,392.54 L90.52,393.59 L91.37,394.61 L92.23,395.61 L93.08,396.59 L93.94,397.54 L94.79,398.48 L95.64,399.39 L96.50,400.29 L97.35,401.16 L98.21,402.02 L99.06,402.86 L99.92,403.69 L100.77,404.50 L101.62,405.30 L102.48,406.08 L103.33,406.84 L104.19,407.60 L105.04,408.34 L105.90,409.06 L106.75,409.78 L107.60,410.48 L108.46,411.18 L109.31,411.86 L110.17,412.53 L111.02,413.19 L111.88,413.84 L112.73,414.48 L113.58,415.12 L114.44,415.74 L115.29,416.35 L116.15,416.96 L117.00,417.56 L117.86,418.15 L118.71,418.73 L119.57,419.31 L120.42,419.88 L121.27,420.44 L122.13,420.99 L122.98,421.54 L123.84,422.08 L124.69,422.62 L125.55,423.15 L126.40,423.67 L127.25,424.19 L128.11,424.70 L128.96,425.21 L129.82,425.71 L130.67,426.21 L131.53,426.70 L132.38,427.19 L133.23,427.67 L134.09,428.15 L134.94,428.62 L135.80,429.09 L136.65,429.55 L137.51,430.01 L138.36,430.47 L139.22,430.92 L140.07,431.37 L140.92,431.81 L141.78,432.25 L142.63,432.69 L143.49,433.12 L144.34,433.55 L145.20,433.98 L146.05,434.40 L146.90,434.82 L147.76,435.23 L148.61,435.65 L149.47,436.06 L150.32,436.46 L151.18,436.87 L152.03,437.27 L152.88,437.67 L153.74,438.06 L154.59,438.46 L155.45,438.85 L156.30,439.24 L157.16,439.62 L158.01,440.00 L158.86,440.38 L159.72,440.76 L160.57,441.14 L161.43,441.51 L162.28,441.88 L163.14,442.25 L163.99,442.62 L164.85,442.98 L165.70,443.34 L166.55,443.70 L167.41,444.06 L168.26,444.42 L169.12,444.77 L169.97,445.13 L170.83,445.48 L171.68,445.83 L172.53,446.17 L173.39,446.52 L174.24,446.86 L175.10,447.20 L175.95,447.54 L176.81,447.88 L177.66,448.22 L178.51,448.55 L179.37,448.89 L180.22,449.22 L181.08,449.55 L181.93,449.88 L182.79,450.21 L183.64,450.53 L184.49,450.86 L185.35,451.18 L186.20,451.50 L187.06,451.82 L187.91,452.14 L188.77,452.46 L189.62,452.78 L190.48,453.09 L191.33,453.41 L192.18,453.72 L193.04,454.03 L193.89,454.34 L194.75,454.65 L195.60,454.96 L196.46,455.27 L197.31,455.57 L198.16,455.88 L199.02,456.18 L199.87,456.48 L200.73,456.78 L201.58,457.09 L202.44,457.38 L203.29,457.68 L204.14,457.98 L205.00,458.28 L205.85,458.57 L206.71,458.87 L207.56,459.16 L208.42,459.45 L209.27,459.74 L210.13,460.04 L210.98,460.33 L211.83,460.61 L212.69,460.90 L213.54,461.19 L214.40,461.48 L215.25,461.76 L216.11,462.05 L216.96,462.33 L217.81,462.61 L218.67,462.90 L219.52,463.18 L220.38,463.46 L221.23,463.74 L222.09,464.02 L222.94,464.30 L223.79,464.57 L224.65,464.85 L225.50,465.13 L226.36,465.40 L227.21,465.68 L228.07,465.95 L228.92,466.22 L229.77,466.50 L230.63,466.77 L231.48,467.04 L232.34,467.31 L233.19,467.58 L234.05,467.85 L234.90,468.12 L235.76,468.39 L236.61,468.66 L237.46,468.92 L238.32,469.19 L239.17,469.46 L240.03,469.72 L240.88,469.99 L241.74,470.25 L242.59,470.51 L243.44,470.78 L244.30,471.04 L245.15,471.30 L246.01,471.56 L246.86,471.82 L247.72,472.08 L248.57,472.34 L249.42,472.60 L250.28,472.86 L251.13,473.12 L251.99,473.38 L252.84,473.63 L253.70,473.89 L254.55,474.15 L255.41,474.40 L256.26,474.66 L257.11,474.91 L257.97,475.17 L258.82,475.42 L259.68,475.68 L260.53,475.93 L261.39,476.18 L262.24,476.43 L263.09,476.69 L263.95,476.94 L264.80,477.19 L265.66,477.44 L266.51,477.69 L267.37,477.94 L268.22,478.19 L269.07,478.44 L269.93,478.68 L270.78,478.93 L271.64,479.18 L272.49,479.43 L273.35,479.67 L274.20,479.92 L275.05,480.17 L275.91,480.41 L276.76,480.66 L277.62,480.90 L278.47,481.15 L279.33,481.39 L280.18,481.64 L281.04,481.88 L281.89,482.12 L282.74,482.37 L283.60,482.61 L284.45,482.85 L285.31,483.09 L286.16,483.33 L287.02,483.58 L287.87,483.82 L288.72,484.06 L289.58,484.30 L290.43,484.54 L291.29,484.78 L292.14,485.02 L293.00,485.26 L293.85,485.49 L294.70,485.73 L295.56,485.97 L296.41,486.21 L297.27,486.45 L298.12,486.68 L298.98,486.92 L299.83,487.16 L300.68,487.39 L301.54,487.63 L302.39,487.87 L303.25,488.10 L304.10,488.34 L304.96,488.57 L305.81,488.81 L306.67,489.04 L307.52,489.27 L308.37,489.51 L309.23,489.74 L310.08,489.98 L310.94,490.21 L311.79,490.44 L312.65,490.67 L313.50,490.91" fill="none" stroke="#7f3f1a" stroke-width="1.7"/>
<circle cx="62.8" cy="92.2" r="3.3" fill="none" stroke="#3000b4" stroke-width="1.85"/>
<circle cx="73.4" cy="118.5" r="3.3" fill="none" stroke="#3000b4" stroke-width="1.85"/>
<circle cx="91.1" cy="145" r="3.3" fill="none" stroke="#3000b4" stroke-width="1.85"/>
<circle cx="123.4" cy="167.5" r="3.3" fill="none" stroke="#3000b4" stroke-width="1.85"/>
<circle cx="169.7" cy="188.4" r="3.3" fill="none" stroke="#3000b4" stroke-width="1.85"/>
<circle cx="212.2" cy="204" r="3.3" fill="none" stroke="#3000b4" stroke-width="1.85"/>
<circle cx="255.4" cy="215.2" r="3.3" fill="none" stroke="#3000b4" stroke-width="1.85"/>
<circle cx="270.1" cy="223.5" r="3.3" fill="none" stroke="#3000b4" stroke-width="1.85"/>
<circle cx="301.4" cy="228.2" r="3.3" fill="none" stroke="#3000b4" stroke-width="1.85"/>
<circle cx="68" cy="349.1" r="3.3" fill="none" stroke="#3000b4" stroke-width="1.85"/>
<circle cx="78.3" cy="378.2" r="3.3" fill="none" stroke="#3000b4" stroke-width="1.85"/>
<circle cx="100.2" cy="404.9" r="3.3" fill="none" stroke="#3000b4" stroke-width="1.85"/>
<circle cx="131.5" cy="427.3" r="3.3" fill="none" stroke="#3000b4" stroke-width="1.85"/>
<circle cx="181.3" cy="450.5" r="3.3" fill="none" stroke="#3000b4" stroke-width="1.85"/>
<circle cx="244.5" cy="466.3" r="3.3" fill="none" stroke="#3000b4" stroke-width="1.85"/>
<circle cx="276.6" cy="477.8" r="3.3" fill="none" stroke="#3000b4" stroke-width="1.85"/>
<circle cx="302.3" cy="492.1" r="3.3" fill="none" stroke="#3000b4" stroke-width="1.85"/>
<circle cx="307.1" cy="486.6" r="3.3" fill="none" stroke="#3000b4" stroke-width="1.85"/>
<circle cx="171.3" cy="38.50" r="3.3" fill="none" stroke="#3000b4" stroke-width="1.85"/>
<line x1="158" y1="53.40" x2="184" y2="53.40" stroke="#1c0cb0" stroke-width="1.7" stroke-dasharray="5.3 4.5"/>
<line x1="157.8" y1="70.40" x2="184.6" y2="70.40" stroke="#7f3f1a" stroke-width="1.9"/>
<text x="186.4" y="41.70" class="lg">Experimental data S2</text>
<text x="186.4" y="53.80" class="lg">Eq. (1) with w<tspan dy="5.2" class="sb">s</tspan><tspan dy="-5.2">=const</tspan></text>
<text x="186.4" y="71.40" class="lg">Eq. (1) with w<tspan dy="5.2" class="sb">s</tspan><tspan dy="-5.2">=w</tspan><tspan dy="5.2" class="sb">s</tspan><tspan dy="-5.2">(y) (Eq. 21)</tspan></text>
<circle cx="171.3" cy="313.50" r="3.3" fill="none" stroke="#3000b4" stroke-width="1.85"/>
<line x1="158" y1="328.40" x2="184" y2="328.40" stroke="#1c0cb0" stroke-width="1.7" stroke-dasharray="5.3 4.5"/>
<line x1="157.8" y1="345.40" x2="184.6" y2="345.40" stroke="#7f3f1a" stroke-width="1.9"/>
<text x="186.4" y="316.70" class="lg">Experimental data S4</text>
<text x="186.4" y="328.80" class="lg">Eq. (1) with w<tspan dy="5.2" class="sb">s</tspan><tspan dy="-5.2">=const</tspan></text>
<text x="186.4" y="346.40" class="lg">Eq. (1) with w<tspan dy="5.2" class="sb">s</tspan><tspan dy="-5.2">=w</tspan><tspan dy="5.2" class="sb">s</tspan><tspan dy="-5.2">(y) (Eq. 21)</tspan></text>
</svg>
</body></html>
